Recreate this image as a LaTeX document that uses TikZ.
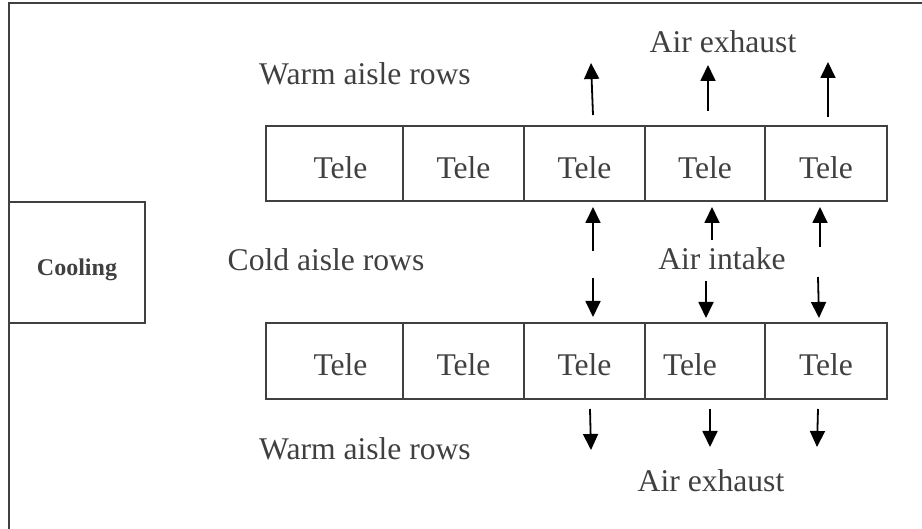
\documentclass[tikz,border=0pt]{standalone}
\usepackage{fontspec}
\setmainfont{Liberation Serif}
\usetikzlibrary{arrows.meta}
\definecolor{ink}{HTML}{404040}
\tikzset{
  lbl/.style={anchor=base, inner sep=0pt, text=ink, font=\fontsize{15.8}{19}\selectfont},
  cell/.style={draw=ink, line width=0.9pt, inner sep=0pt, minimum height=#1, text=ink,
               font=\fontsize{15.8}{19}\selectfont},
  topcell/.style={cell=37.5pt, text height=15.5pt, text depth=0pt},
  botcell/.style={cell=38pt, text height=15pt, text depth=0pt},
  coolbox/.style={draw=ink, line width=0.9pt, inner sep=0pt, minimum width=68pt, minimum height=60.5pt,
                  text=ink, font=\fontsize{12}{14}\selectfont\bfseries, text height=13.5pt, text depth=0pt},
  frame/.style={draw=ink, line width=0.9pt},
  arr/.style={draw=black, line width=0.9pt, -{Triangle[length=8pt,width=7.5pt]}}
}
\begin{document}
\begin{tikzpicture}[x=0.5pt,y=-0.5pt]
\useasboundingbox (0,0) rectangle (922,529);
% outer frame (top and left edges)
\draw[frame] (9,529) coordinate (fb) -- (9,3) coordinate (fc) -- (922,3) coordinate (fr);
% cooling unit
\node[coolbox] (cool) at (77,262.5) {Cooling};
% top row
\node[topcell, minimum width=68.5pt] (t1) at (334.5,163.5) {\hspace*{6pt}Tele};
\node[topcell, minimum width=60.5pt] (t2) at (463.5,163.5) {Tele};
\node[topcell, minimum width=60.5pt] (t3) at (584.5,163.5) {Tele};
\node[topcell, minimum width=60pt]   (t4) at (705,163.5) {Tele};
\node[topcell, minimum width=61pt]   (t5) at (826,163.5) {Tele};
% bottom row
\node[botcell, minimum width=68.5pt] (b1) at (334.5,361) {\hspace*{6pt}Tele};
\node[botcell, minimum width=60.5pt] (b2) at (463.5,361) {Tele};
\node[botcell, minimum width=60.5pt] (b3) at (584.5,361) {Tele};
\node[botcell, minimum width=60pt]   (b4) at (705,361) {Tele\hspace*{15pt}};
\node[botcell, minimum width=61pt]   (b5) at (826,361) {Tele};
% labels
\node[lbl] (ex1) at (723,53) {Air exhaust};
\node[lbl] (wa1) at (365,85) {Warm aisle rows};
\node[lbl] (cold) at (326,271) {Cold aisle rows};
\node[lbl] (intake) at (722,270) {Air intake};
\node[lbl] (wa2) at (365,459) {Warm aisle rows};
\node[lbl] (ex2) at (711,492) {Air exhaust};
% exhaust arrows above top row
\draw[arr] (593,115) coordinate (u1s) -- (591,63) coordinate (u1e);
\draw[arr] (708,111) coordinate (u2s) -- (708,65) coordinate (u2e);
\draw[arr] (828,117) coordinate (u3s) -- (828,62) coordinate (u3e);
% intake arrows (cold aisle, up)
\draw[arr] (593,251) coordinate (i1s) -- (593,207) coordinate (i1e);
\draw[arr] (712,240) coordinate (i2s) -- (712,207) coordinate (i2e);
\draw[arr] (820,247) coordinate (i3s) -- (820,207) coordinate (i3e);
% intake arrows (cold aisle, down)
\draw[arr] (593,278) coordinate (d1s) -- (593,317) coordinate (d1e);
\draw[arr] (706,281) coordinate (d2s) -- (706,318) coordinate (d2e);
\draw[arr] (818,277) coordinate (d3s) -- (819,318) coordinate (d3e);
% exhaust arrows below bottom row
\draw[arr] (590,409) coordinate (e1s) -- (591,450) coordinate (e1e);
\draw[arr] (710,409) coordinate (e2s) -- (710,447) coordinate (e2e);
\draw[arr] (818,409) coordinate (e3s) -- (817,447) coordinate (e3e);
\end{tikzpicture}
\end{document}
